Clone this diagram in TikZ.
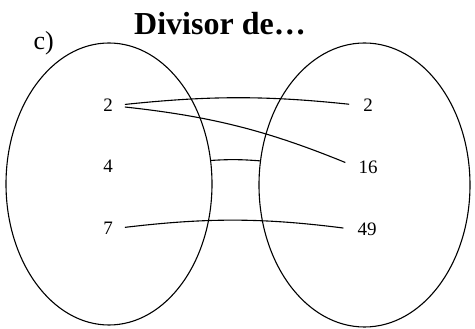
\documentclass[tikz,border=0pt]{standalone}
\usepackage{fontspec}
\setmainfont{Liberation Serif}
\usetikzlibrary{positioning, shapes.geometric}

\begin{document}
\begin{tikzpicture}[
    x=1pt, y=1pt,
    set/.style={draw, ellipse, line width=1.1pt, inner sep=0pt},
    num/.style={font=\fontsize{19}{19}\selectfont, inner sep=0pt, anchor=base},
    arr/.style={line width=1.1pt, shorten <=12pt, shorten >=14pt},
]
\useasboundingbox (0,0) rectangle (475,329);
\node[font=\fontsize{32}{32}\selectfont\bfseries, anchor=base] (title) at (220,294) {Divisor de…};
\node[font=\fontsize{26}{26}\selectfont, anchor=base west] (part) at (30,279) {c)};
\node[set, minimum width=206pt, minimum height=282pt] (dom) at (109,145) {};
\node[set, minimum width=211pt, minimum height=284pt] (cod) at (364.5,144) {};
\node[num] (a2) at (108,217) {2};
\node[num] (a4) at (108,156) {4};
\node[num] (a7) at (108,94) {7};
\node[num] (b2) at (368,217) {2};
\node[num] (b16) at (368,155) {16};
\node[num] (b49) at (367,93) {49};
\draw[arr] (a2.east) to[bend left=6] (b2.west);
\draw[arr] (a2.east) to[bend left=8] (b16.west);
\draw[arr] (a7.east) to[bend left=7] (b49.west);
\draw[line width=1.1pt] (dom.13) to[bend left=4] (cod.167);
\end{tikzpicture}
\end{document}
